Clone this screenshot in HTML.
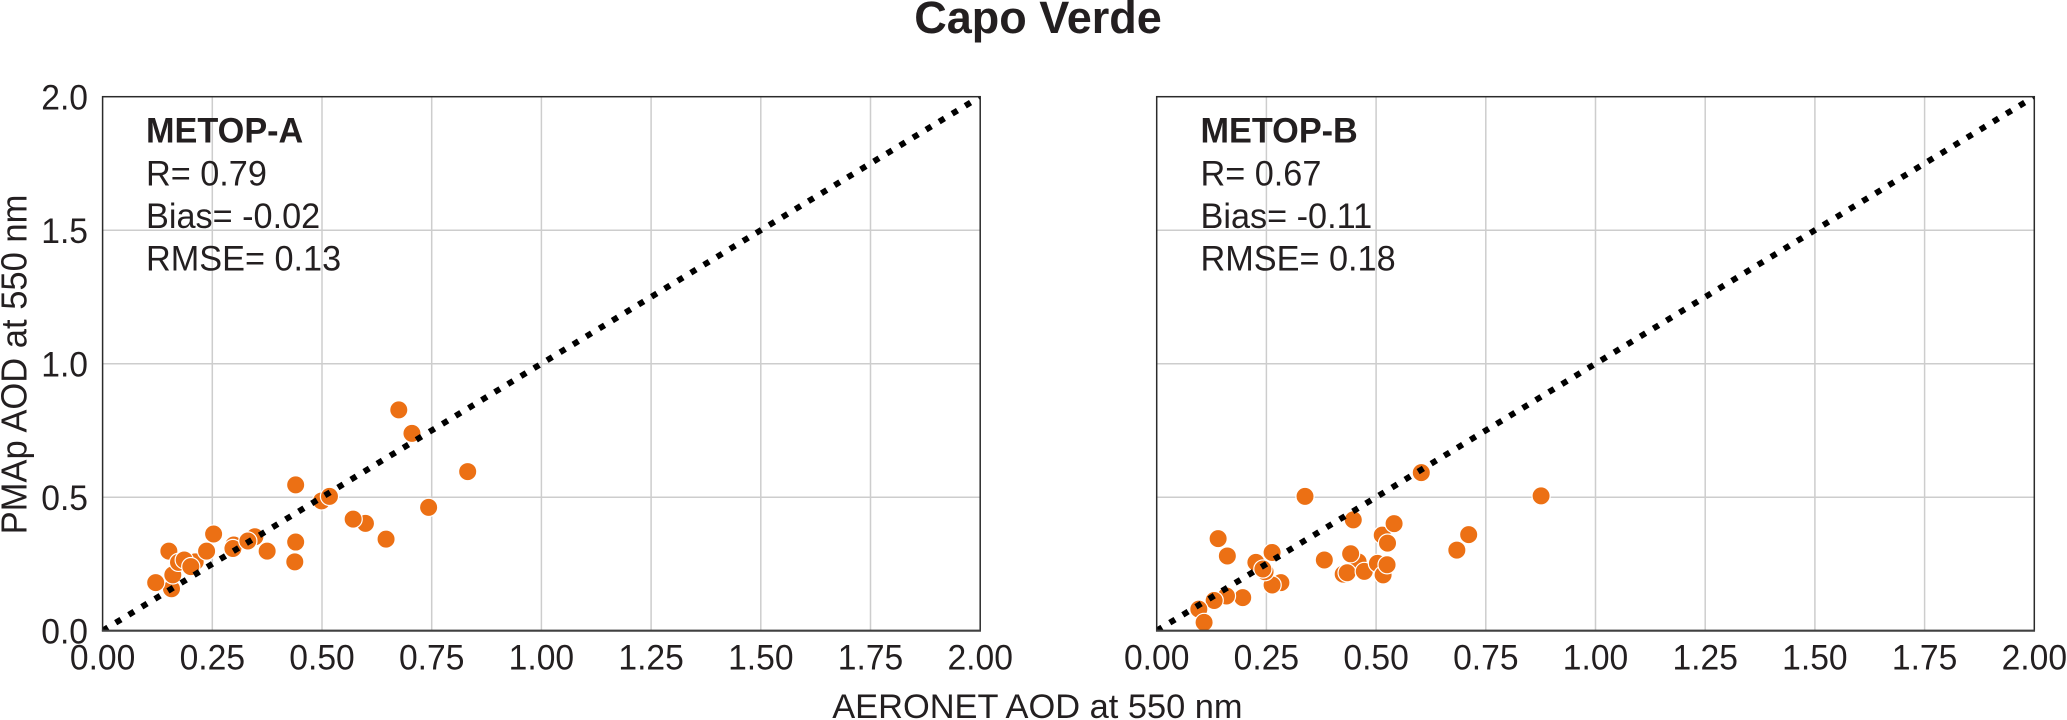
<!DOCTYPE html>
<html lang="en">
<head>
<meta charset="utf-8">
<title>Capo Verde</title>
<style>
html,body{margin:0;padding:0;background:#fff;width:2067px;height:720px;overflow:hidden}
svg{display:block}
text{font-family:"Liberation Sans",Arial,sans-serif;fill:#231f20}
</style>
</head>
<body>
<svg id="chart" xmlns="http://www.w3.org/2000/svg" width="2067" height="720" viewBox="0 0 2067 720">
  <rect width="2067" height="720" fill="#fff"/>
  <text x="1038" y="33" font-size="45" font-weight="700" text-anchor="middle">Capo Verde</text>
  <text transform="translate(26.5 364.5) rotate(-90) scale(0.96 1)" font-size="36" text-anchor="middle">PMAp AOD at 550 nm</text>
  <text x="1037.4" y="718" font-size="34.4" text-anchor="middle">AERONET AOD at 550 nm</text>
  <g id="panel-a"></g>
  <g id="panel-b"></g>
  <g font-size="35.5">
    <text transform="translate(146 142.7) scale(0.965 1)" font-weight="700">METOP-A</text>
    <text transform="translate(146 185.3) scale(0.965 1)">R= 0.79</text>
    <text transform="translate(146 228) scale(0.965 1)">Bias= -0.02</text>
    <text transform="translate(146 270.7) scale(0.965 1)">RMSE= 0.13</text>
  </g>
  <g font-size="35.5">
    <text transform="translate(1200.5 142.7) scale(0.965 1)" font-weight="700">METOP-B</text>
    <text transform="translate(1200.5 185.3) scale(0.965 1)">R= 0.67</text>
    <text transform="translate(1200.5 228) scale(0.965 1)">Bias= -0.11</text>
    <text transform="translate(1200.5 270.7) scale(0.965 1)">RMSE= 0.18</text>
  </g>
</svg>
<script>
const xTickValues = [0, 0.25, 0.5, 0.75, 1, 1.25, 1.5, 1.75, 2];
const xTickLabels = ['0.00', '0.25', '0.50', '0.75', '1.00', '1.25', '1.50', '1.75', '2.00'];
const yTickValues = [0, 0.5, 1, 1.5, 2];
const yTickLabels = ['0.0', '0.5', '1.0', '1.5', '2.0'];
const oneToOneLine = [0, 2];

const metopAX = [0.157, 0.121, 0.160, 0.151, 0.211, 0.173, 0.186, 0.201, 0.237, 0.253, 0.299, 0.297, 0.347, 0.331, 0.375, 0.438, 0.440, 0.440, 0.499, 0.517, 0.599, 0.571, 0.646, 0.675, 0.705, 0.832, 0.743];
const metopAY = [0.157, 0.180, 0.209, 0.298, 0.258, 0.256, 0.265, 0.240, 0.298, 0.362, 0.321, 0.308, 0.352, 0.336, 0.298, 0.258, 0.332, 0.546, 0.486, 0.503, 0.402, 0.418, 0.343, 0.827, 0.739, 0.596, 0.462];

const metopBX = [0.140, 0.161, 0.338, 0.448, 0.514, 0.526, 0.541, 0.263, 0.226, 0.283, 0.263, 0.247, 0.242, 0.382, 0.459, 0.442, 0.425, 0.434, 0.473, 0.503, 0.516, 0.525, 0.196, 0.159, 0.131, 0.096, 0.108, 0.603, 0.876, 0.711, 0.684];
const metopBY = [0.345, 0.280, 0.503, 0.415, 0.358, 0.328, 0.401, 0.293, 0.256, 0.180, 0.171, 0.221, 0.231, 0.265, 0.258, 0.288, 0.212, 0.217, 0.222, 0.252, 0.209, 0.247, 0.124, 0.130, 0.113, 0.081, 0.031, 0.592, 0.505, 0.360, 0.302];

const SVG_NS = 'http://www.w3.org/2000/svg';
const PLOT_TOP = 96.7;
const PLOT_BOTTOM = 630.7;
const PLOT_WIDTH = 877.6;
const TICK_FONT = 35.4;
const TICK_SQUEEZE = 0.95;

function make(parent, tag, attrs) {
  const el = document.createElementNS(SVG_NS, tag);
  for (const key in attrs) el.setAttribute(key, attrs[key]);
  parent.appendChild(el);
  return el;
}

function drawPanel(parent, left, xs, ys, showYTicks, prefix) {
  const xScale = v => left + v / 2 * PLOT_WIDTH;
  const yScale = v => PLOT_BOTTOM - v / 2 * (PLOT_BOTTOM - PLOT_TOP);

  const clip = make(parent, 'clipPath', { id: prefix + '-clip' });
  make(clip, 'rect', { x: left, y: PLOT_TOP, width: PLOT_WIDTH, height: PLOT_BOTTOM - PLOT_TOP });

  xTickValues.forEach((v, i) => {
    if (v > 0 && v < 2) {
      const grid = make(parent, 'line', { x1: xScale(v), x2: xScale(v), y1: PLOT_TOP, y2: PLOT_BOTTOM, stroke: '#cdcdcd', 'stroke-width': 1.5 });
      
      
    }
    const label = make(parent, 'text', { transform: 'translate(' + xScale(v) + ' 669.5) scale(' + TICK_SQUEEZE + ' 1)', 'font-size': TICK_FONT, 'text-anchor': 'middle' });
    label.textContent = xTickLabels[i];
    
    
  });

  yTickValues.forEach((v, i) => {
    if (v > 0 && v < 2) {
      const grid = make(parent, 'line', { x1: left, x2: left + PLOT_WIDTH, y1: yScale(v), y2: yScale(v), stroke: '#cdcdcd', 'stroke-width': 1.5 });
      
      
    }
    if (showYTicks) {
      const label = make(parent, 'text', { transform: 'translate(88 ' + (yScale(v) + 12.8) + ') scale(' + TICK_SQUEEZE + ' 1)', 'font-size': TICK_FONT, 'text-anchor': 'end' });
      label.textContent = yTickLabels[i];
      
      
    }
  });

  xs.forEach((x, i) => {
    const point = make(parent, 'circle', { cx: xScale(x), cy: yScale(ys[i]), r: 9.1, fill: '#ec7014', stroke: '#fff', 'stroke-width': 1.2 });
    
    
  });

  const line = make(parent, 'line', {
    x1: xScale(oneToOneLine[0]), y1: yScale(oneToOneLine[0]),
    x2: xScale(oneToOneLine[1]), y2: yScale(oneToOneLine[1]),
    stroke: '#000', 'stroke-width': 6, 'stroke-dasharray': '6.2 9.1', 'clip-path': 'url(#' + prefix + '-clip)'
  });
  
  

  const frame = make(parent, 'rect', { x: left, y: PLOT_TOP, width: PLOT_WIDTH, height: PLOT_BOTTOM - PLOT_TOP, fill: 'none', stroke: '#2b2b2b', 'stroke-width': 1.5 });
  
  

  const baseline = make(parent, 'line', { x1: left - 0.7, x2: left + PLOT_WIDTH + 0.7, y1: PLOT_BOTTOM, y2: PLOT_BOTTOM, stroke: '#404040', 'stroke-width': 2.2 });
  
  
}

drawPanel(document.getElementById('panel-a'), 102.6, metopAX, metopAY, true, 'metop-a');
drawPanel(document.getElementById('panel-b'), 1156.7, metopBX, metopBY, false, 'metop-b');
</script>
</body>
</html>
